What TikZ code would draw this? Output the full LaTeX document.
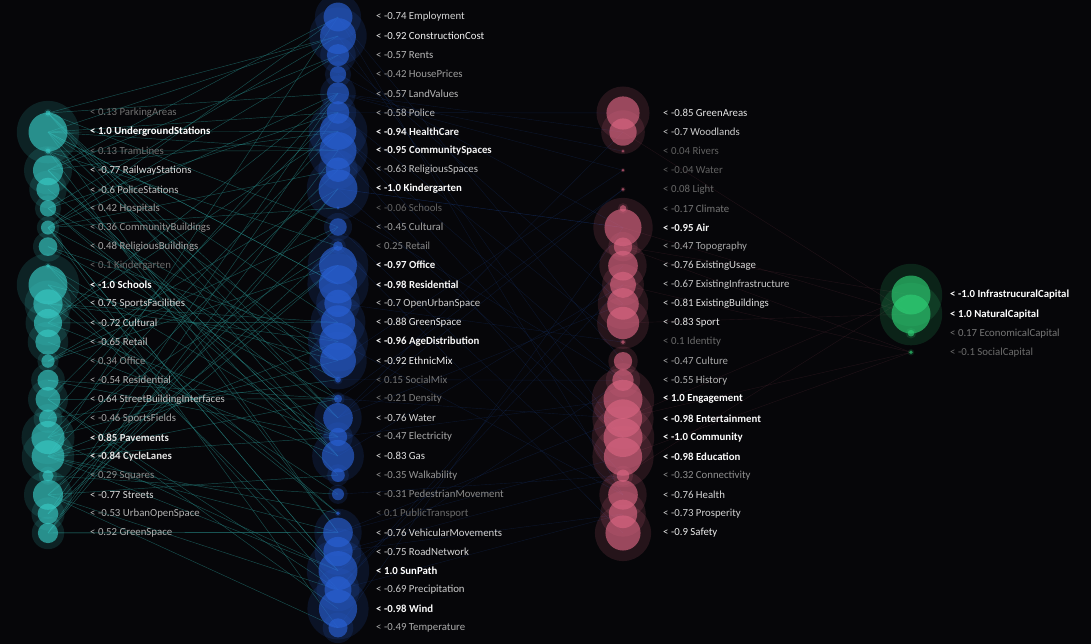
\documentclass[tikz,border=0pt]{standalone}
\usepackage{fontspec}
\setmainfont{Carlito}
\definecolor{bg}{RGB}{6,6,9}
\definecolor{ccyan}{RGB}{55,200,195}
\definecolor{cblue}{RGB}{40,95,210}
\definecolor{cpink}{RGB}{215,100,128}
\definecolor{cgreen}{RGB}{45,205,115}
\tikzset{
  halo/.style={circle, fill=#1, fill opacity=0.15, inner sep=0pt, draw=none},
  core/.style={circle, fill=#1, fill opacity=0.66, inner sep=0pt, draw=none},
  lbl/.style={anchor=west, inner sep=0pt, font=\fontsize{10.8}{12}\selectfont},
  edgeA/.style={draw=ccyan!65!black, line width=0.45pt, opacity=0.6},
  edgeB/.style={draw=cblue!70!black, line width=0.4pt, opacity=0.25},
  edgeC/.style={draw=cpink!60!black, line width=0.4pt, opacity=0.22},
}
\newcommand\drawcolumn[5]{%
  \foreach \v/\t [count=\i] in {#5} {
    \pgfmathsetmacro\r{max(1.3,19.5*abs(\v))}
    \node[halo=#2, minimum size=3.2*\r] (h#1\i) at (#1\i) {};
  }
  \foreach \v/\t [count=\i] in {#5} {
    \pgfmathsetmacro\r{max(1.3,19.5*abs(\v))}
    \node[core=#2, minimum size=2*\r] (n#1\i) at (#1\i) {};
  }
  \foreach \v/\t [count=\i] in {#5} {
    \pgfmathtruncatemacro\lev{36+64*abs(\v)}
    \pgfmathtruncatemacro\isb{abs(\v)>=#4 ? 1 : 0}
    \node[lbl, text=white!\lev!black] (l#1\i) at (#3,0 |- #1\i) {\ifnum\isb=1 \bfseries\fi <\ \v\ \t};
  }
}
\begin{document}
\begin{tikzpicture}[x=1pt,y=-1pt]
\clip (0,0) rectangle (1091,644);
\fill[bg] (0,0) rectangle (1091,644);
% positions
\foreach \i in {1,...,23} \coordinate (a\i) at (48,{113+19.09*(\i-1)});
\foreach \i in {1,...,33} \coordinate (b\i) at (338,{17+19.09*(\i-1)});
\foreach \i in {1,...,23} \coordinate (c\i) at (623,{113+19.09*(\i-1)});
\foreach \i in {1,...,4} \coordinate (d\i) at (911,{295+19.09*(\i-1)});
% connectors
\pgfmathsetseed{17}
\foreach \k in {1,...,95} {
  \pgfmathrandominteger{\ia}{1}{23}
  \pgfmathrandominteger{\jb}{1}{33}
  \draw[edgeA] (a\ia) -- (b\jb);
}
\foreach \k in {1,...,40} {
  \pgfmathrandominteger{\ia}{1}{33}
  \pgfmathrandominteger{\jb}{1}{23}
  \draw[edgeB] (b\ia) -- (c\jb);
}
\foreach \k in {1,...,10} {
  \pgfmathrandominteger{\ia}{1}{23}
  \pgfmathrandominteger{\jb}{1}{4}
  \draw[edgeC] (c\ia) -- (d\jb);
}
% columns
\drawcolumn{a}{ccyan}{90}{0.84}{0.13/ParkingAreas, 1.0/UndergroundStations, 0.13/TramLines, -0.77/RailwayStations, -0.6/PoliceStations, 0.42/Hospitals, 0.36/CommunityBuildings, 0.48/ReligiousBuildings, 0.1/Kindergarten, -1.0/Schools, 0.75/SportsFacilities, -0.72/Cultural, -0.65/Retail, 0.34/Office, -0.54/Residential, 0.64/StreetBuildingInterfaces, -0.46/SportsFields, 0.85/Pavements, -0.84/CycleLanes, 0.29/Squares, -0.77/Streets, -0.53/UrbanOpenSpace, 0.52/GreenSpace}
\drawcolumn{b}{cblue}{376}{0.93}{-0.74/Employment, -0.92/ConstructionCost, -0.57/Rents, -0.42/HousePrices, -0.57/LandValues, -0.58/Police, -0.94/HealthCare, -0.95/CommunitySpaces, -0.63/ReligiousSpaces, -1.0/Kindergarten, -0.06/Schools, -0.45/Cultural, 0.25/Retail, -0.97/Office, -0.98/Residential, -0.7/OpenUrbanSpace, -0.88/GreenSpace, -0.96/AgeDistribution, -0.92/EthnicMix, 0.15/SocialMix, -0.21/Density, -0.76/Water, -0.47/Electricity, -0.83/Gas, -0.35/Walkability, -0.31/PedestrianMovement, 0.1/PublicTransport, -0.76/VehicularMovements, -0.75/RoadNetwork, 1.0/SunPath, -0.69/Precipitation, -0.98/Wind, -0.49/Temperature}
\drawcolumn{c}{cpink}{663}{0.93}{-0.85/GreenAreas, -0.7/Woodlands, 0.04/Rivers, -0.04/Water, 0.08/Light, -0.17/Climate, -0.95/Air, -0.47/Topography, -0.76/ExistingUsage, -0.67/ExistingInfrastructure, -0.81/ExistingBuildings, -0.83/Sport, 0.1/Identity, -0.47/Culture, -0.55/History, 1.0/Engagement, -0.98/Entertainment, -1.0/Community, -0.98/Education, -0.32/Connectivity, -0.76/Health, -0.73/Prosperity, -0.9/Safety}
\drawcolumn{d}{cgreen}{950}{0.93}{-1.0/InfrastrucuralCapital, 1.0/NaturalCapital, 0.17/EconomicalCapital, -0.1/SocialCapital}
\end{tikzpicture}
\end{document}
